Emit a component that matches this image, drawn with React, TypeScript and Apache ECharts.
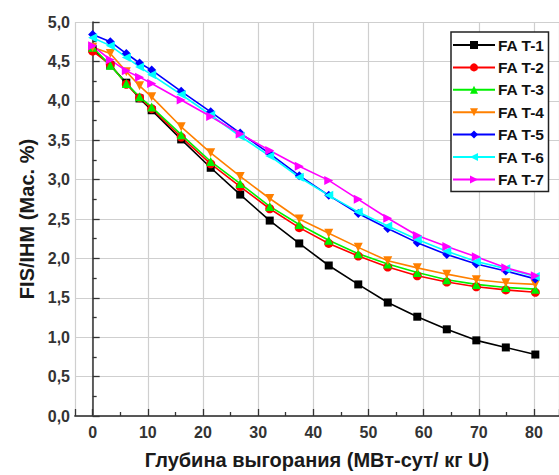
import React, { useEffect, useRef } from "react";
import * as echarts from "echarts";

// Burnup points (MWd/kgU), shared by all assemblies
const burnup = [0, 3.2, 6.1, 8.5, 10.7, 16.05, 21.4, 26.75, 32.1, 37.45, 42.8, 48.15, 53.5, 58.85, 64.2, 69.55, 74.9, 80.25];

// FIS/IHM, wt.%
const fat1 = [4.66, 4.45, 4.23, 4.03, 3.88, 3.51, 3.15, 2.81, 2.48, 2.19, 1.91, 1.67, 1.44, 1.26, 1.10, 0.96, 0.87, 0.78];
const fat2 = [4.63, 4.46, 4.21, 4.04, 3.90, 3.54, 3.20, 2.91, 2.63, 2.39, 2.19, 2.03, 1.89, 1.78, 1.70, 1.64, 1.60, 1.57];
const fat3 = [4.68, 4.45, 4.22, 4.05, 3.92, 3.57, 3.23, 2.95, 2.66, 2.43, 2.23, 2.06, 1.93, 1.82, 1.73, 1.67, 1.63, 1.61];
const fat4 = [4.68, 4.60, 4.37, 4.19, 4.05, 3.67, 3.34, 3.04, 2.76, 2.50, 2.32, 2.14, 1.97, 1.88, 1.80, 1.73, 1.69, 1.67];
const fat5 = [4.84, 4.75, 4.60, 4.48, 4.39, 4.12, 3.86, 3.59, 3.33, 3.05, 2.80, 2.57, 2.38, 2.20, 2.05, 1.93, 1.84, 1.74];
const fat6 = [4.80, 4.70, 4.55, 4.43, 4.33, 4.08, 3.82, 3.55, 3.30, 3.03, 2.80, 2.59, 2.41, 2.24, 2.09, 1.96, 1.87, 1.77];
const fat7 = [4.70, 4.52, 4.38, 4.30, 4.22, 4.01, 3.80, 3.58, 3.37, 3.17, 2.99, 2.75, 2.51, 2.29, 2.15, 2.02, 1.88, 1.78];

const seriesNames = ["FA T-1", "FA T-2", "FA T-3", "FA T-4", "FA T-5", "FA T-6", "FA T-7"];
const seriesData = [fat1, fat2, fat3, fat4, fat5, fat6, fat7];
const seriesColors = ["#000000", "#ff0000", "#00f000", "#ff8000", "#0000ff", "#00ffff", "#ff00ff"];
const seriesSymbols = ["rect", "circle", "triangle", "triangle", "diamond", "triangle", "triangle"];
const seriesRotate = [0, 0, 0, 180, 0, 90, -90];

const FONT = "'Liberation Sans', Arial, sans-serif";

export default function App() {
  const ref = useRef<HTMLDivElement>(null);

  useEffect(() => {
    if (!ref.current) return;
    const chart = echarts.init(ref.current, undefined, { renderer: "svg" });

    const series = seriesNames.map((name, i) => ({
      name,
      type: "line",
      xAxisIndex: 0,
      data: burnup.map((x, j) => [x, seriesData[i][j]]),
      symbol: seriesSymbols[i],
      symbolRotate: seriesRotate[i],
      symbolSize: seriesSymbols[i] === "rect" ? 8 : 9,
      showSymbol: true,
      lineStyle: { color: seriesColors[i], width: 1.6 },
      itemStyle: { color: seriesColors[i] },
    }));

    chart.setOption({
      animation: false,
      backgroundColor: "#ffffff",
      grid: { left: 75, right: 0, top: 22, bottom: 58.3, containLabel: false },
      xAxis: [
        {
          type: "value",
          min: -3.2,
          max: 84.54,
          splitNumber: 8,
          name: "Глубина выгорания (МВт-сут/ кг U)",
          nameLocation: "middle",
          nameGap: 34,
          nameTextStyle: { fontFamily: FONT, fontSize: 20, fontWeight: "bold", color: "#1a1a1a" },
          axisLine: { show: true, onZero: false, lineStyle: { color: "#333", width: 1.5 } },
          axisTick: { show: true, inside: true, length: 7, lineStyle: { color: "#333", width: 1.3 } },
          minorTick: { show: true, splitNumber: 2, length: 4, lineStyle: { color: "#333", width: 1.3 } },
          axisLabel: {
            fontFamily: FONT, fontSize: 16, fontWeight: "bold", color: "#333", margin: 8,
            showMinLabel: false, showMaxLabel: false,
          },
          splitLine: { show: true, lineStyle: { color: "#cfcfcf", width: 1.2 } },
        },
        {
          type: "value",
          position: "top",
          min: -3.2,
          max: 84.54,
          axisLine: { show: true, lineStyle: { color: "#555", width: 1.5 } },
          axisTick: { show: false },
          axisLabel: { show: false },
          splitLine: { show: false },
        },
      ],
      yAxis: {
        type: "value",
        min: 0,
        max: 5,
        interval: 0.5,
        name: "FIS/IHM (Мас. %)",
        nameLocation: "middle",
        nameGap: 37,
        nameTextStyle: { fontFamily: FONT, fontSize: 20, fontWeight: "bold", color: "#1a1a1a" },
        axisLine: { show: true, lineStyle: { color: "#333", width: 1.5 } },
        axisTick: { show: true, inside: true, length: 7, lineStyle: { color: "#333", width: 1.3 } },
        minorTick: { show: true, splitNumber: 2, length: 4, lineStyle: { color: "#333", width: 1.3 } },
        axisLabel: {
          fontFamily: FONT, fontSize: 16, fontWeight: "bold", color: "#333", margin: 5,
          formatter: (v: number) => v.toFixed(1).replace(".", ","),
        },
        splitLine: { show: true, lineStyle: { color: "#cfcfcf", width: 1.2 } },
      },
      legend: {
        orient: "vertical",
        left: 451,
        top: 32,
        width: 95,
        padding: [5, 4, 4, 1],
        itemWidth: 42,
        itemHeight: 10,
        itemGap: 6.4,
        backgroundColor: "#ffffff",
        borderColor: "#222",
        borderWidth: 1.5,
        textStyle: { fontFamily: FONT, fontSize: 15.5, fontWeight: "bold", color: "#111", padding: [0, 0, 0, -2] },
        data: seriesNames,
      },
      series,
    });

    return () => chart.dispose();
  }, []);

  return (
    <div
      ref={ref}
      style={{ position: "fixed", left: 0, top: 0, width: 559, height: 475 }}
    />
  );
}
